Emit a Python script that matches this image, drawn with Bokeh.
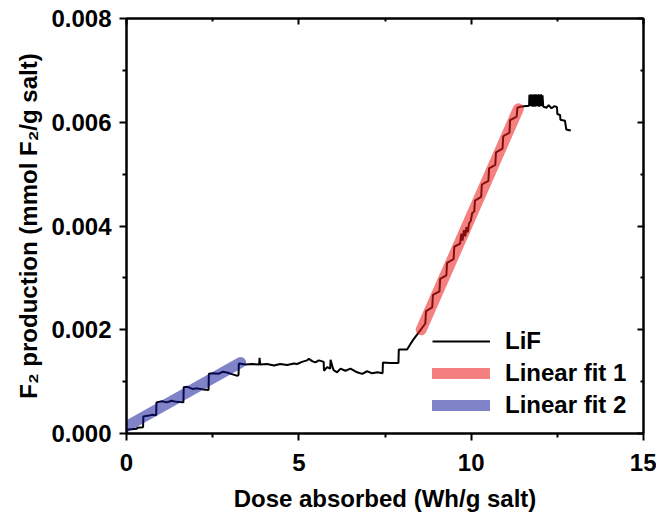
from bokeh.plotting import figure
from bokeh.models import (FixedTicker, LinearAxis, PrintfTickFormatter, Range1d,
                          Legend, LegendItem, CustomJSTickFormatter)
from bokeh.embed import file_html
from bokeh.resources import INLINE

# ---------------- data ----------------
x_ticks = [0, 5, 10, 15]
x_minor = [2.5, 7.5, 12.5]
y_ticks = [0.000, 0.002, 0.004, 0.006, 0.008]
y_minor = [0.001, 0.003, 0.005, 0.007]

lif_low = [
    (0.00, 0.00007), (0.14, 0.00008), (0.30, 0.00009), (0.31, 0.00011),
    (0.48, 0.00012), (0.49, 0.00033), (0.61, 0.00034), (0.75, 0.00036),
    (0.86, 0.00035), (0.87, 0.00060), (1.03, 0.00062), (1.17, 0.00060),
    (1.31, 0.00063), (1.45, 0.00061), (1.65, 0.00060), (1.66, 0.00089),
    (1.77, 0.00090), (1.91, 0.00086), (2.05, 0.00087), (2.24, 0.00085),
    (2.38, 0.00084), (2.39, 0.00115), (2.52, 0.00116), (2.66, 0.00115),
    (2.80, 0.00119), (2.94, 0.00117), (3.08, 0.00114), (3.22, 0.00111),
    (3.25, 0.00113), (3.26, 0.00135), (3.36, 0.00134), (3.46, 0.00133),
    (3.64, 0.00134), (3.85, 0.00133), (3.86, 0.00146), (3.88, 0.00133),
    (4.08, 0.00134), (4.28, 0.00131), (4.46, 0.00134), (4.66, 0.00132),
    (4.86, 0.00135), (4.95, 0.00134), (5.09, 0.00138), (5.24, 0.00141),
    (5.29, 0.00144), (5.40, 0.00139), (5.48, 0.00137), (5.58, 0.00141),
    (5.68, 0.00139), (5.72, 0.00138), (5.73, 0.00121), (5.82, 0.00128),
    (5.91, 0.00125), (5.92, 0.00142), (5.98, 0.00128), (6.01, 0.00122),
    (6.11, 0.00118), (6.21, 0.00125), (6.35, 0.00121), (6.50, 0.00125),
    (6.69, 0.00118), (6.84, 0.00115), (6.98, 0.00120), (7.13, 0.00116),
    (7.28, 0.00118), (7.43, 0.00116), (7.44, 0.00137), (7.66, 0.00136),
    (7.89, 0.00136), (7.90, 0.00162), (8.14, 0.00162), (8.31, 0.00180),
    (8.48, 0.00195),
]

lif_rise = [
    (8.67, 0.00212), (8.69, 0.00236), (8.87, 0.00243), (8.89, 0.00267),
    (9.08, 0.00274), (9.10, 0.00298), (9.28, 0.00305), (9.30, 0.00329),
    (9.49, 0.00336), (9.51, 0.00360), (9.68, 0.00366), (9.71, 0.00385),
    (9.75, 0.00372), (9.79, 0.00392), (9.83, 0.00380), (9.86, 0.00398),
    (9.90, 0.00388), (9.94, 0.00405), (9.99, 0.00410), (10.03, 0.00425),
    (10.09, 0.00428), (10.11, 0.00449), (10.29, 0.00456), (10.31, 0.00480),
    (10.50, 0.00487), (10.52, 0.00511), (10.70, 0.00518), (10.72, 0.00542),
    (10.91, 0.00549), (10.93, 0.00573), (11.11, 0.00580), (11.13, 0.00604),
    (11.32, 0.00611), (11.34, 0.00628), (11.43, 0.00630),
]

lif_top = [
    (11.53, 0.00631), (11.68, 0.00632), (11.69, 0.00653), (11.71, 0.00631),
    (11.73, 0.00654), (11.75, 0.00631), (11.77, 0.00653), (11.79, 0.00630),
    (11.81, 0.00654), (11.82, 0.00631), (11.84, 0.00653), (11.86, 0.00630),
    (11.88, 0.00654), (11.90, 0.00631), (11.92, 0.00653), (11.94, 0.00631),
    (11.96, 0.00654), (11.97, 0.00630), (11.99, 0.00653), (12.01, 0.00631),
    (12.03, 0.00654), (12.05, 0.00631), (12.07, 0.00652), (12.09, 0.00631),
    (12.10, 0.00630), (12.19, 0.00628), (12.25, 0.00633), (12.33, 0.00627),
    (12.42, 0.00631), (12.49, 0.00629), (12.50, 0.00616), (12.58, 0.00614),
    (12.59, 0.00605), (12.72, 0.00603), (12.76, 0.00586), (12.89, 0.00584),
]

fit1_x = [8.55, 11.37]
fit1_y = [0.00200, 0.00626]
fit2_x = [0.00, 3.31]
fit2_y = [0.000135, 0.00137]

lif_points = lif_low + lif_rise + lif_top
lif_x = [pt[0] for pt in lif_points]
lif_y = [pt[1] for pt in lif_points]

# ---------------- figure ----------------
FONT = "Liberation Sans"

p = figure(frame_width=517, frame_height=415,
           x_range=Range1d(0, 15), y_range=Range1d(0, 0.008),
           output_backend="svg", toolbar_location=None,
           min_border_left=126, min_border_right=13,
           min_border_top=18, min_border_bottom=85)
p.xgrid.visible = False
p.ygrid.visible = False
p.outline_line_color = "black"
p.outline_line_width = 2
p.outline_line_alpha = 1.0

xt = FixedTicker(ticks=x_ticks, minor_ticks=x_minor)
yt = FixedTicker(ticks=y_ticks, minor_ticks=y_minor)


def style_axis(ax, labels=True):
    ax.axis_line_width = 2
    ax.axis_line_color = "black"
    ax.major_tick_line_width = 2
    ax.minor_tick_line_width = 2
    ax.major_tick_line_color = "black"
    ax.minor_tick_line_color = "black"
    if labels:
        ax.major_tick_out = 7
        ax.major_tick_in = 0
        ax.minor_tick_out = 4
        ax.minor_tick_in = 0
        ax.major_label_text_font = FONT
        ax.major_label_text_font_style = "bold"
        ax.major_label_text_font_size = "24px"
        ax.major_label_text_color = "black"
        ax.axis_label_text_font = FONT
        ax.axis_label_text_font_style = "bold"
        ax.axis_label_text_font_size = "24px"
        ax.axis_label_text_color = "black"
    else:
        ax.major_tick_out = 0
        ax.major_tick_in = 6
        ax.minor_tick_out = 0
        ax.minor_tick_in = 3
        ax.formatter = CustomJSTickFormatter(code="return ''")
        ax.major_label_standoff = 0


p.xaxis.ticker = xt
p.yaxis.ticker = yt
p.yaxis.formatter = PrintfTickFormatter(format="%.3f")
p.xaxis.axis_label = "Dose absorbed (Wh/g salt)"
p.yaxis.axis_label = "F\u2082 production (mmol F\u2082/g salt)"
style_axis(p.xaxis[0])
style_axis(p.yaxis[0])
p.xaxis.major_label_standoff = 13
p.xaxis.axis_label_standoff = 11
p.yaxis.major_label_standoff = 8
p.yaxis.axis_label_standoff = 6

top_ax = LinearAxis(ticker=xt)
style_axis(top_ax, labels=False)
p.add_layout(top_ax, "above")
right_ax = LinearAxis(ticker=yt)
style_axis(right_ax, labels=False)
p.add_layout(right_ax, "right")

r_lif = p.line(lif_x, lif_y, line_color="black", line_width=2)
r_fit1 = p.line(fit1_x, fit1_y, line_color="#eb1818", line_alpha=0.55,
                line_width=11, line_cap="round")
r_fit2 = p.line(fit2_x, fit2_y, line_color="#0c1294", line_alpha=0.52,
                line_width=11, line_cap="round")

legend = Legend(items=[LegendItem(label="LiF", renderers=[r_lif]),
                       LegendItem(label="Linear fit 1", renderers=[r_fit1]),
                       LegendItem(label="Linear fit 2", renderers=[r_fit2])],
                location=(306, 14))
legend.border_line_color = None
legend.background_fill_alpha = 0
legend.label_text_font = FONT
legend.label_text_font_style = "bold"
legend.label_text_font_size = "24px"
legend.label_text_color = "black"
legend.glyph_width = 58
legend.glyph_height = 22
legend.label_height = 24
legend.spacing = 4
legend.padding = 0
legend.margin = 0
legend.label_standoff = 15
p.add_layout(legend)

open("out.html", "w").write(file_html(p, INLINE))
